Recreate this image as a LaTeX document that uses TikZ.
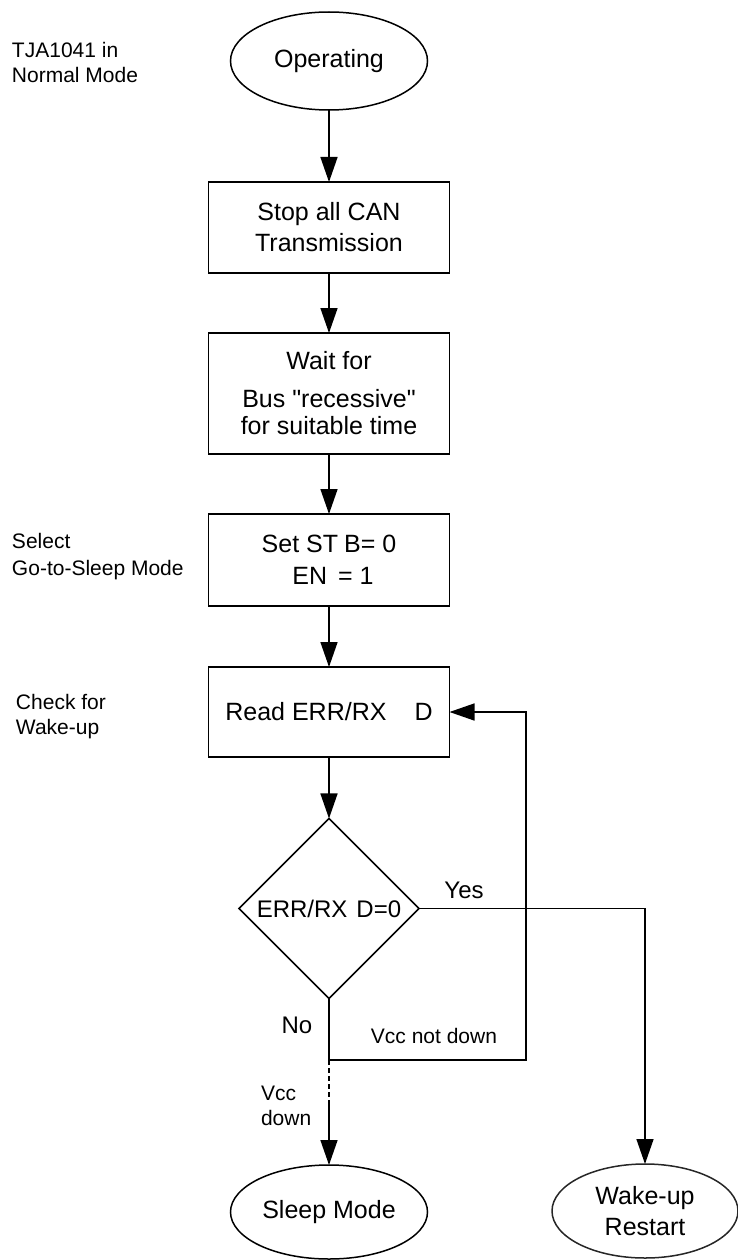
\documentclass[tikz,border=0pt]{standalone}
\usepackage{fontspec}
\setmainfont{Liberation Sans}[Ligatures=TeXOff]
\usetikzlibrary{shapes.geometric,arrows.meta}

\begin{document}
\begin{tikzpicture}[x=1pt,y=-1pt,
  every node/.style={inner sep=0pt, outer sep=0pt},
  line/.style={line width=1.5pt, draw=black},
  flow/.style={line, -{Triangle[length=25pt,width=17pt]}},
  boxfont/.style={font=\fontsize{25}{31}\selectfont},
  process/.style={draw, line width=1.5pt, rectangle, minimum width=241pt, align=center, boxfont},
  terminal/.style={draw, line width=1.5pt, ellipse, align=center, boxfont},
  decision/.style={draw, line width=1.5pt, diamond, minimum width=180pt, minimum height=180pt, align=center, font=\fontsize{24}{29}\selectfont},
  note/.style={align=left, anchor=west, font=\fontsize{21}{25}\selectfont},
  branch/.style={font=\fontsize{24}{29}\selectfont}
]
\useasboundingbox (0,0) rectangle (738,1260);

% main column of the flow
\node[terminal, minimum width=197pt, minimum height=98pt] (op) at (329,61) {Operating};
\node[process, minimum height=91pt] (stop) at (329,227.5) {Stop all CAN\\Transmission};
\node[process, minimum height=121pt] (wait) at (329,393.5) {Wait for\\[7pt]Bus "recessive"\\[-4pt]for suitable time};
\node[process, minimum height=92pt, font=\fontsize{25}{32}\selectfont] (set) at (329,560) {Set ST\hspace{6pt}B= 0\\\hspace{8pt}EN\hspace{4pt} = 1};
\node[process, minimum height=90pt] (read) at (329,712) {Read ERR/RX\hspace{28pt}D};
\node[decision] (dec) at (329,908.5) {ERR/RX\hspace{9pt}D=0};
\node[terminal, minimum width=197pt, minimum height=94pt] (sleep) at (329,1212) {Sleep Mode};
\node[terminal, draw=black!85, minimum width=186pt, minimum height=94pt] (wake) at (645,1211) {Wake-up\\Restart};

% side annotations
\node[note] (lblnormal) at (12,62) {TJA1041 in\\Normal Mode};
\node[note, font=\fontsize{21}{27}\selectfont] (lblselect) at (12,556.5) {Select\\Go-to-Sleep Mode};
\node[note] (lblcheck) at (16,716.5) {Check for\\Wake-up};
\node[branch] (lblyes) at (464,890) {Yes};
\node[branch] (lblno) at (297,1025) {No};
\node[font=\fontsize{21}{25}\selectfont] (lblnotdown) at (434,1036) {Vcc not down};
\node[note] (lbldown) at (261,1105.5) {Vcc\\down};

% routing points
\coordinate (junc) at (329,1060);
\coordinate (loopbr) at (526,1060);
\coordinate (looptr) at (526,712);
\coordinate (dashend) at (329,1100);
\coordinate (yescorner) at (645,908.5);

% connectors
\draw[flow] (op) -- (stop);
\draw[flow] (stop) -- (wait);
\draw[flow] (wait) -- (set);
\draw[flow] (set) -- (read);
\draw[flow] (read) -- (dec);
\draw[flow] (dec.east) -- (yescorner) -- (wake.north);
\draw[line] (dec.south) -- (junc);
\draw[flow] (junc) -- (loopbr) -- (looptr) -- (read.east);
\draw[line, line width=1.2pt, dash pattern=on 5pt off 3pt] (junc) -- (dashend);
\draw[flow] (dashend) -- (sleep.north);
\end{tikzpicture}
\end{document}
